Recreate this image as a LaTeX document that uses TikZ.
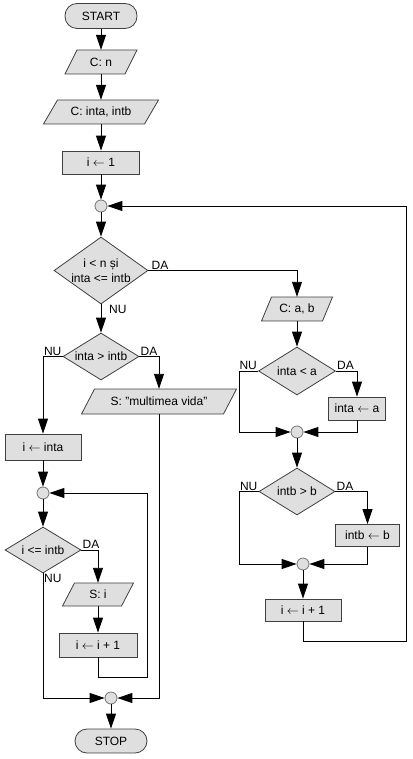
\documentclass[tikz,border=0pt]{standalone}
\usepackage{fontspec}
\setmainfont{Liberation Sans}
\usetikzlibrary{arrows.meta,shapes.geometric,calc}
\newcommand{\mypara}[7]{%
  \pgfmathsetmacro{\pxl}{#2-#4/2}%
  \pgfmathsetmacro{\pxr}{#2+#4/2}%
  \pgfmathsetmacro{\pyb}{#3-#6/2}%
  \pgfmathsetmacro{\pyt}{#3+#6/2}%
  \draw[shp] (\pxl,\pyb) -- ({\pxl+#5},\pyt) -- (\pxr,\pyt) -- ({\pxr-#5},\pyb) -- cycle;%
  \node[inner sep=0, minimum width={#4-#5}, minimum height=#6] (#1) at (#2,#3) {#7};%
}
\newcommand{\mydec}[6]{%
  \node[dia, minimum width=#4, minimum height=#5] (#1) at (#2,#3) {};%
  \node[align=center, inner sep=0] (#1t) at (#1) {#6};%
}
\newcommand{\la}{\ensuremath{\leftarrow}}
\begin{document}
\begin{tikzpicture}[x=1pt,y=1pt,
  every node/.style={font=\fontsize{12}{15}\selectfont},
  shp/.style={draw=black!75, fill=gray!25, line width=0.8pt},
  proc/.style={shp, rectangle, inner sep=0},
  term/.style={shp, rectangle, rounded corners=12pt, inner sep=0, minimum width=72pt, minimum height=25pt},
  dia/.style={shp, diamond, inner sep=0},
  jn/.style={draw=black!55, fill=gray!25, circle, inner sep=0, minimum size=12pt, line width=0.8pt},
  arr/.style={-{Triangle[length=15pt,width=10pt]}},
  ln/.style={line width=0.9pt},
  lab/.style={inner sep=1pt}
]
\useasboundingbox (0,0) rectangle (412,-759);

\node[term] (start) at (101,-16) {START};
\mypara{cn}{101}{-62}{72}{12}{24}{C: n}
\mypara{cab}{101}{-112}{115}{14}{24}{C: inta, intb}
\node[proc, minimum width=77pt, minimum height=23pt] (i1) at (101,-162.5) {i \la{} 1};
\node[jn] (c1) at (101,-206) {};
\mydec{d1}{101}{-270.5}{94}{67}{i < n și\\inta <= intb}
\mydec{d2}{101}{-356.5}{76}{47}{inta > intb}
\mypara{cab2}{297}{-309}{71}{10}{24}{C: a, b}
\mydec{d3}{297}{-371}{77}{48}{inta < a}
\node[proc, minimum width=57pt, minimum height=23pt] (ia) at (357,-408.5) {inta \la{} a};
\node[jn] (c3) at (297,-432) {};
\mydec{d4}{297}{-491.5}{76}{47}{intb > b}
\node[proc, minimum width=64pt, minimum height=22pt] (ib) at (367.5,-535.5) {intb \la{} b};
\node[jn] (c4) at (303,-564) {};
\node[proc, minimum width=76pt, minimum height=22pt] (ii2) at (303,-610) {i \la{} i + 1};
\coordinate (rr) at (406,-641);
\mypara{smv}{159}{-401.5}{155}{13}{25}{S: "multimea vida"}
\node[proc, minimum width=76pt, minimum height=26pt] (iinta) at (43,-447) {i \la{} inta};
\node[jn] (c2) at (43,-493) {};
\mydec{d5}{43}{-550}{76}{46}{i <= intb}
\mypara{si}{98}{-594.5}{71}{12}{23}{S: i}
\node[proc, minimum width=78pt, minimum height=24pt] (ii1) at (98,-645) {i \la{} i + 1};
\coordinate (lp) at (147,-677);
\node[jn] (c5) at (111,-698) {};
\node[term, minimum height=24pt] (stop) at (111,-741) {STOP};

\draw[ln,arr] (start) -- (cn);
\draw[ln,arr] (cn) -- (cab);
\draw[ln,arr] (cab) -- (i1);
\draw[ln,arr] (i1) -- (c1);
\draw[ln,arr] (c1) -- (d1);
\draw[ln,arr] (d1.east) -| (cab2.north);
\draw[ln,arr] (d1) -- (d2);
\draw[ln,arr] (d2.west) -| (iinta.north);
\draw[ln,arr] (d2.east) -| (smv.north);
\draw[ln,arr] (iinta) -- (c2);
\draw[ln,arr] (c2) -- (d5);
\draw[ln,arr] (d5.east) -| (si.north);
\draw[ln,arr] (si) -- (ii1);
\draw[ln,arr] (ii1.south) |- (lp) |- (c2.east);
\draw[ln,arr] (d5.south) |- (c5.west);
\draw[ln,arr] (smv.south) |- (c5.east);
\draw[ln,arr] (c5) -- (stop);
\draw[ln,arr] (cab2) -- (d3);
\draw[ln,arr] (d3.west) -- ++(-19,0) |- (c3.west);
\draw[ln,arr] (d3.east) -| (ia.north);
\draw[ln,arr] (ia.south) |- (c3.east);
\draw[ln,arr] (c3) -- (d4);
\draw[ln,arr] (d4.west) -- ++(-19,0) |- (c4.west);
\draw[ln,arr] (d4.east) -| (ib.north);
\draw[ln,arr] (ib.south) |- (c4.east);
\draw[ln,arr] (c4) -- (ii2);
\draw[ln,arr] (ii2.south) |- (rr) |- (c1.east);

\node[lab, anchor=south west] (l1) at ([xshift=2pt]d1.east) {DA};
\node[lab, anchor=north west] (l2) at ([xshift=7pt]d1.south) {NU};
\node[lab, anchor=south east] (l3) at (d2.west) {NU};
\node[lab, anchor=south west] (l4) at (d2.east) {DA};
\node[lab, anchor=south east] (l5) at (d3.west) {NU};
\node[lab, anchor=south west] (l6) at (d3.east) {DA};
\node[lab, anchor=south east] (l7) at (d4.west) {NU};
\node[lab, anchor=south west] (l8) at (d4.east) {DA};
\node[lab, anchor=south west] (l9) at (d5.east) {DA};
\node[lab, anchor=north west] (l10) at (d5.south) {NU};
\end{tikzpicture}
\end{document}
